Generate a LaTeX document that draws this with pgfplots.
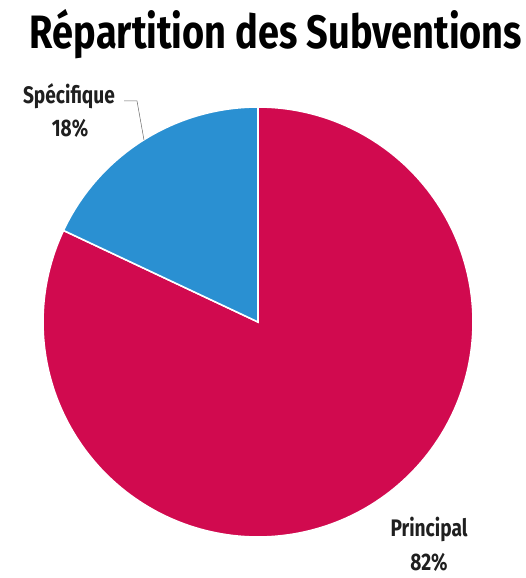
\documentclass[border=0pt]{standalone}
\usepackage{pgfplots}
\pgfplotsset{compat=1.18}
\usepackage{fontspec}
\setmainfont{Fira Sans}
\newfontfamily\titlefont[FakeStretch=0.81]{Fira Sans}
\newfontfamily\labfont[FakeStretch=0.80]{Fira Sans}
\definecolor{principal}{HTML}{D10A4F}
\definecolor{specifique}{HTML}{2A90D2}
\begin{document}
\begin{tikzpicture}
% slice shares (percent)
\pgfmathsetmacro{\vSpec}{18}
\pgfmathsetmacro{\vPrin}{82}
\pgfmathsetmacro{\aStart}{90}
\pgfmathsetmacro{\aMid}{90+3.6*\vSpec}
\pgfmathsetmacro{\aEnd}{\aMid+3.6*\vPrin}
\begin{axis}[
  x=1bp, y=1bp,
  xmin=0, xmax=520, ymin=0, ymax=578,
  hide axis, clip=false,
]
\path (axis cs:0,0) rectangle (axis cs:520,578);
\addplot[fill=principal, draw=white, line width=1.6pt, domain=\aMid:\aEnd, samples=200, variable=\t]
  ({258+215*cos(t)},{256+215*sin(t)}) -- (axis cs:258,256) -- cycle;
\addplot[fill=specifique, draw=white, line width=1.6pt, domain=\aStart:\aMid, samples=60, variable=\t]
  ({258+215*cos(t)},{256+215*sin(t)}) -- (axis cs:258,256) -- cycle;
\draw[gray!80!black, line width=0.5pt] (axis cs:124,477) -- (axis cs:137,477) -- (axis cs:144,438);
\node[font=\titlefont\bfseries\fontsize{47}{50}\selectfont, anchor=base] at (axis cs:276,529) {Répartition des Subventions};
\node[font=\labfont\bfseries\fontsize{24}{26}\selectfont, text=black!88, anchor=base, inner sep=0pt] at (axis cs:69,474) {Spécifique};
\node[font=\labfont\bfseries\fontsize{24}{26}\selectfont, text=black!88, anchor=base, inner sep=0pt] at (axis cs:70,441) {18\%};
\node[font=\labfont\bfseries\fontsize{24}{26}\selectfont, text=black!88, anchor=base, inner sep=0pt] at (axis cs:429,41) {Principal};
\node[font=\labfont\bfseries\fontsize{24}{26}\selectfont, text=black!88, anchor=base, inner sep=0pt] at (axis cs:429,7) {82\%};
\end{axis}
\end{tikzpicture}
\end{document}
